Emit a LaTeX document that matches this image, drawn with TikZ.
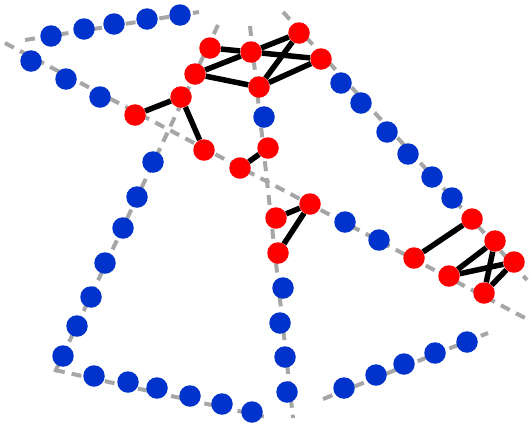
\documentclass[tikz,border=0pt]{standalone}
\usepackage{xcolor}
\usepackage{tikz}
\usetikzlibrary{positioning}
\definecolor{nwblue}{HTML}{0033CC}
\definecolor{nwred}{HTML}{FF0000}
\definecolor{nwgray}{HTML}{A6A6A6}

\begin{document}
\begin{tikzpicture}[
  x=1pt, y=-1pt,
  line cap=butt, line join=round,
  road/.style={draw=nwgray, line width=4pt, dash pattern=on 10pt off 7pt},
  hub/.style={circle, fill=nwred, inner sep=0pt, minimum size=21.5pt},
  stop/.style={circle, fill=nwblue, inner sep=0pt, minimum size=21.5pt},
  link/.style={draw=black, line width=5.5pt},
]
\useasboundingbox (0,0) rectangle (529,424);

% ----- dashed routes -----
\coordinate (ta) at (25,40);   \coordinate (tb) at (199,12);
\coordinate (da) at (5,43);    \coordinate (db) at (525,318);
\coordinate (ra) at (283,12);  \coordinate (rb) at (527,280);
\coordinate (la) at (218,25);  \coordinate (lb) at (55,372);
\coordinate (ba) at (55,370);  \coordinate (bb) at (270,418);
\coordinate (ca) at (250,26);  \coordinate (cb) at (293,418);
\coordinate (ea) at (323,399); \coordinate (eb) at (488,333);
\draw[road] (ta) -- (tb);
\draw[road] (da) -- (db);
\draw[road] (ra) -- (rb);
\draw[road] (la) -- (lb);
\draw[road] (ba) -- (bb);
\draw[road] (ca) -- (cb);
\draw[road] (ea) -- (eb);

% ----- blue stops -----
\node[stop] (b1) at (51,36) {};
\node[stop] (b2) at (84,29) {};
\node[stop] (b3) at (114,24) {};
\node[stop] (b4) at (147,19) {};
\node[stop] (b5) at (180,15) {};
\node[stop] (b6) at (31,61) {};
\node[stop] (b7) at (66,79) {};
\node[stop] (b8) at (100,97) {};
\node[stop] (b9) at (341,83) {};
\node[stop] (b10) at (361,103) {};
\node[stop] (b11) at (387,132) {};
\node[stop] (b12) at (408,154) {};
\node[stop] (b13) at (432,177) {};
\node[stop] (b14) at (452,198) {};
\node[stop] (b15) at (345,222) {};
\node[stop] (b16) at (379,240) {};
\node[stop] (b17) at (153,162) {};
\node[stop] (b18) at (137,197) {};
\node[stop] (b19) at (123,228) {};
\node[stop] (b20) at (105,263) {};
\node[stop] (b21) at (91,297) {};
\node[stop] (b22) at (77,326) {};
\node[stop] (b23) at (63,356) {};
\node[stop] (b24) at (94,376) {};
\node[stop] (b25) at (128,382) {};
\node[stop] (b26) at (157,388) {};
\node[stop] (b27) at (190,396) {};
\node[stop] (b28) at (222,404) {};
\node[stop] (b29) at (252,412) {};
\node[stop] (b30) at (264,117) {};
\node[stop] (b31) at (283,288) {};
\node[stop] (b32) at (280,323) {};
\node[stop] (b33) at (285,357) {};
\node[stop] (b34) at (287,392) {};
\node[stop] (b35) at (344,388) {};
\node[stop] (b36) at (376,375) {};
\node[stop] (b37) at (404,364) {};
\node[stop] (b38) at (435,353) {};
\node[stop] (b39) at (467,342) {};

% ----- red hubs -----
\node[hub] (r1) at (210,48) {};
\node[hub] (r2) at (251,52) {};
\node[hub] (r3) at (299,33) {};
\node[hub] (r4) at (321,59) {};
\node[hub] (r5) at (195,74) {};
\node[hub] (r6) at (259,87) {};
\node[hub] (r7) at (181,97) {};
\node[hub] (r8) at (135,115) {};
\node[hub] (r9) at (204,150) {};
\node[hub] (r10) at (240,168) {};
\node[hub] (r11) at (268,148) {};
\node[hub] (r12) at (310,204) {};
\node[hub] (r13) at (276,218) {};
\node[hub] (r14) at (278,253) {};
\node[hub] (r15) at (414,258) {};
\node[hub] (r16) at (472,219) {};
\node[hub] (r17) at (449,276) {};
\node[hub] (r18) at (495,241) {};
\node[hub] (r19) at (514,262) {};
\node[hub] (r20) at (484,293) {};

% ----- links -----
\draw[link] (r1) -- (r2);
\draw[link] (r2) -- (r3);
\draw[link] (r2) -- (r4);
\draw[link] (r5) -- (r2);
\draw[link] (r5) -- (r6);
\draw[link] (r6) -- (r3);
\draw[link] (r6) -- (r4);
\draw[link] (r7) -- (r8);
\draw[link] (r7) -- (r9);
\draw[link] (r10) -- (r11);
\draw[link] (r12) -- (r13);
\draw[link] (r12) -- (r14);
\draw[link] (r15) -- (r16);
\draw[link] (r17) -- (r18);
\draw[link] (r17) -- (r19);
\draw[link] (r18) -- (r20);
\draw[link] (r19) -- (r20);
\end{tikzpicture}
\end{document}
